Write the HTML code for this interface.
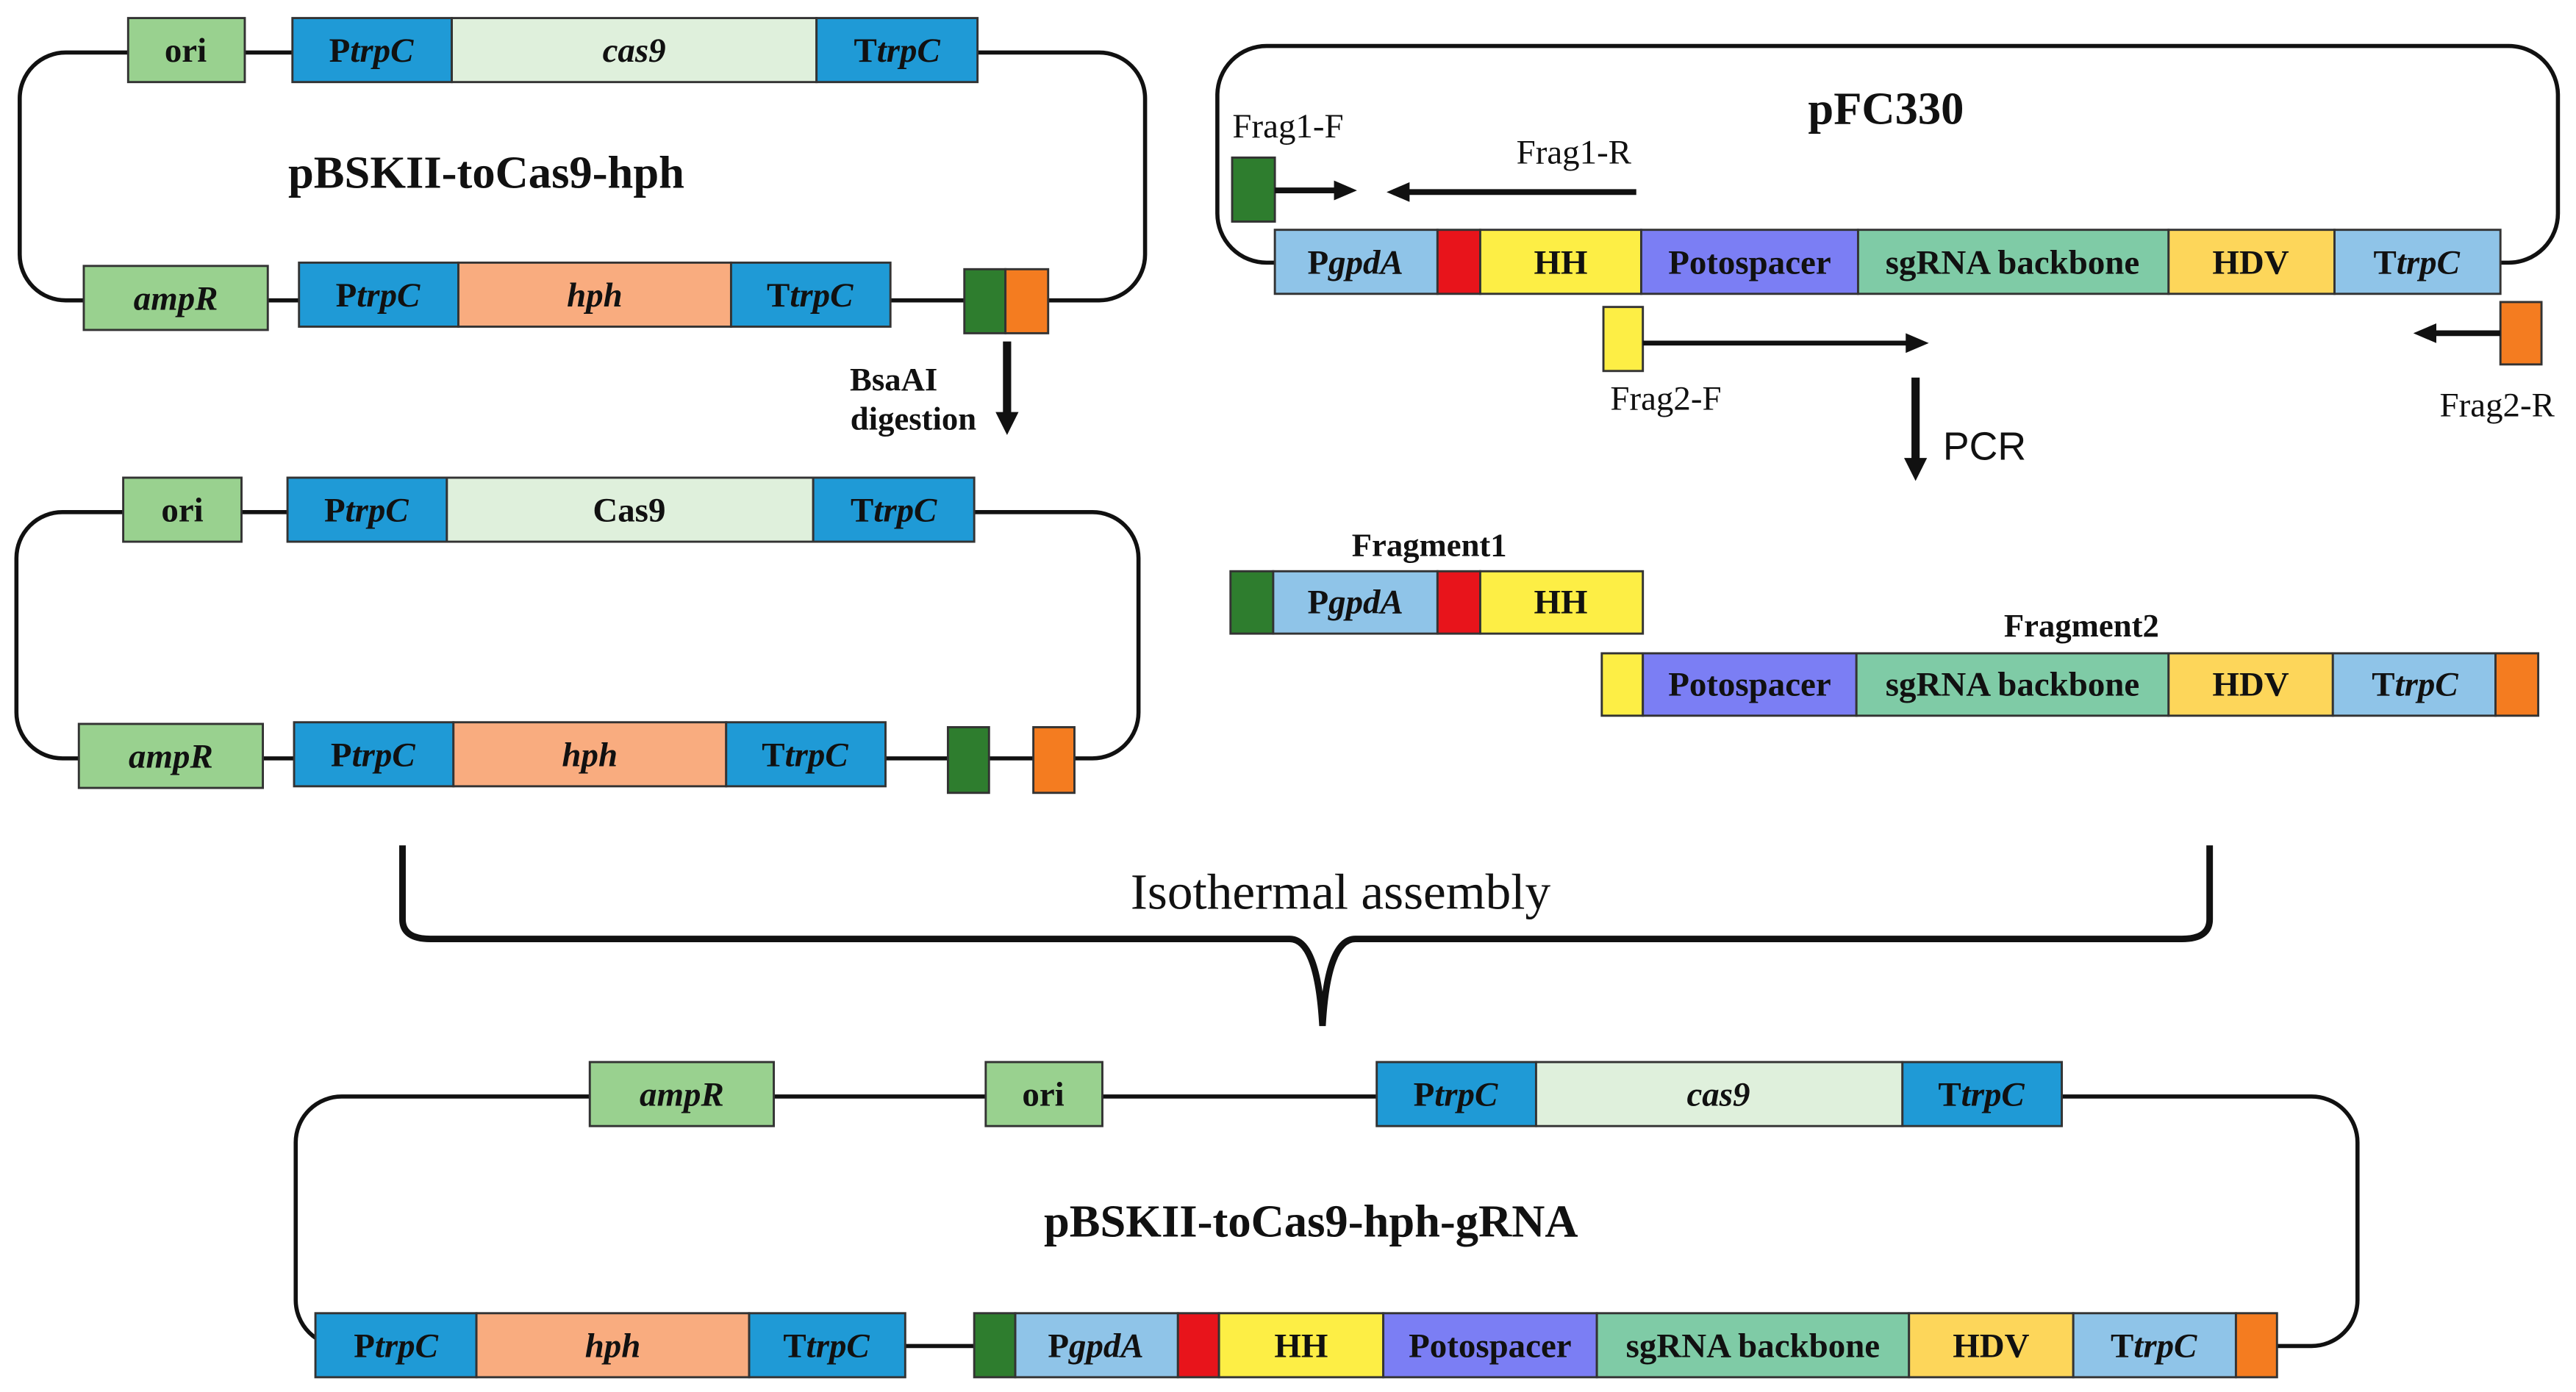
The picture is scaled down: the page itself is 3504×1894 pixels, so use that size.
<!DOCTYPE html>
<html><head><meta charset="utf-8"><style>
html,body{margin:0;padding:0;background:#fff;}
svg{display:block;}
text{font-family:"Liberation Serif",serif;font-weight:bold;font-size:21px;text-anchor:middle;dominant-baseline:central;fill:#111;}
.n{font-weight:normal;}
.f{font-size:21px;}
.t{font-size:28px;}
.g{font-size:20px;}
rect{stroke:#333;stroke-width:1.3;}
.ln{fill:none;stroke:#111;stroke-width:2.5;}
</style></head><body>
<svg width="3504" height="1894" viewBox="0 0 1568 848" preserveAspectRatio="none" xmlns="http://www.w3.org/2000/svg">
<defs><marker id="ah" markerWidth="14" markerHeight="12" refX="10" refY="6" orient="auto" markerUnits="userSpaceOnUse"><path d="M0,0 L14,6 L0,12 z" fill="#111"/></marker>
<marker id="ah2" markerWidth="14" markerHeight="14" refX="7" refY="7" orient="auto" markerUnits="userSpaceOnUse"><path d="M0,0 L14,7 L0,14 z" fill="#111"/></marker></defs>

<!-- plasmid 1 -->
<rect class="ln" x="12" y="32" width="685" height="151" rx="28"/>
<rect x="78" y="11" width="71" height="39" fill="#99d18f"/><text x="113" y="31">ori</text>
<rect x="178" y="11" width="97" height="39" fill="#1f9ad6"/><text x="226" y="31">P<tspan font-style="italic">trpC</tspan></text>
<rect x="275" y="11" width="222" height="39" fill="#dff0dc"/><text x="386" y="31" font-style="italic">cas9</text>
<rect x="497" y="11" width="98" height="39" fill="#1f9ad6"/><text x="546" y="31">T<tspan font-style="italic">trpC</tspan></text>
<text x="296" y="105" class="t">pBSKII-toCas9-hph</text>
<rect x="51" y="162" width="112" height="39" fill="#99d18f"/><text x="107" y="182" font-style="italic">ampR</text>
<rect x="182" y="160" width="97" height="39" fill="#1f9ad6"/><text x="230" y="180">P<tspan font-style="italic">trpC</tspan></text>
<rect x="279" y="160" width="166" height="39" fill="#f9ac7f"/><text x="362" y="180" font-style="italic">hph</text>
<rect x="445" y="160" width="97" height="39" fill="#1f9ad6"/><text x="493" y="180">T<tspan font-style="italic">trpC</tspan></text>
<rect x="587" y="164" width="25" height="39" fill="#2e7d2e"/><rect x="612" y="164" width="26" height="39" fill="#f47c20"/>
<line x1="613" y1="208" x2="613" y2="258" stroke="#111" stroke-width="5" marker-end="url(#ah2)"/>
<text x="544" y="231" class="g">BsaAI</text><text x="556" y="255" class="g">digestion</text>

<!-- plasmid 2 -->
<rect class="ln" x="10" y="312" width="683" height="150" rx="28"/>
<rect x="75" y="291" width="72" height="39" fill="#99d18f"/><text x="111" y="311">ori</text>
<rect x="175" y="291" width="97" height="39" fill="#1f9ad6"/><text x="223" y="311">P<tspan font-style="italic">trpC</tspan></text>
<rect x="272" y="291" width="223" height="39" fill="#dff0dc"/><text x="383" y="311">Cas9</text>
<rect x="495" y="291" width="98" height="39" fill="#1f9ad6"/><text x="544" y="311">T<tspan font-style="italic">trpC</tspan></text>
<rect x="48" y="441" width="112" height="39" fill="#99d18f"/><text x="104" y="461" font-style="italic">ampR</text>
<rect x="179" y="440" width="97" height="39" fill="#1f9ad6"/><text x="227" y="460">P<tspan font-style="italic">trpC</tspan></text>
<rect x="276" y="440" width="166" height="39" fill="#f9ac7f"/><text x="359" y="460" font-style="italic">hph</text>
<rect x="442" y="440" width="97" height="39" fill="#1f9ad6"/><text x="490" y="460">T<tspan font-style="italic">trpC</tspan></text>
<rect x="577" y="443" width="25" height="40" fill="#2e7d2e"/><rect x="629" y="443" width="25" height="40" fill="#f47c20"/>

<!-- pFC330 -->
<rect class="ln" x="741" y="28" width="816" height="132" rx="30"/>
<text x="1148" y="66" class="t">pFC330</text>
<rect x="776" y="140" width="99" height="39" fill="#8fc4e8"/><text x="825" y="160">P<tspan font-style="italic">gpdA</tspan></text>
<rect x="875" y="140" width="26" height="39" fill="#e8141b"/>
<rect x="901" y="140" width="98" height="39" fill="#fdee45"/><text x="950" y="160">HH</text>
<rect x="999" y="140" width="132" height="39" fill="#7b7ef4"/><text x="1065" y="160">Potospacer</text>
<rect x="1131" y="140" width="189" height="39" fill="#7fcba6"/><text x="1225" y="160">sgRNA backbone</text>
<rect x="1320" y="140" width="101" height="39" fill="#fdd65a"/><text x="1370" y="160">HDV</text>
<rect x="1421" y="140" width="101" height="39" fill="#8fc4e8"/><text x="1471" y="160">T<tspan font-style="italic">trpC</tspan></text>
<text x="784" y="77" class="n f">Frag1-F</text>
<rect x="750" y="96" width="26" height="39" fill="#2e7d2e"/>
<line x1="776" y1="116" x2="822" y2="116" stroke="#111" stroke-width="3.5" marker-end="url(#ah)"/>
<text x="958" y="93" class="n f">Frag1-R</text>
<line x1="996" y1="117" x2="848" y2="117" stroke="#111" stroke-width="3.5" marker-end="url(#ah)"/>
<rect x="976" y="187" width="24" height="39" fill="#fdee45"/>
<line x1="1000" y1="209" x2="1170" y2="209" stroke="#111" stroke-width="3" marker-end="url(#ah)"/>
<text x="1014" y="243" class="n f">Frag2-F</text>
<rect x="1522" y="184" width="25" height="38" fill="#f47c20"/>
<line x1="1522" y1="203" x2="1473" y2="203" stroke="#111" stroke-width="3.5" marker-end="url(#ah)"/>
<text x="1520" y="247" class="n f">Frag2-R</text>
<line x1="1166" y1="230" x2="1166" y2="286" stroke="#111" stroke-width="5" marker-end="url(#ah2)"/>
<text x="1208" y="272" class="n" style="font-family:'Liberation Sans',sans-serif;font-size:24px">PCR</text>

<!-- fragments -->
<text x="870" y="332" class="g">Fragment1</text>
<rect x="749" y="348" width="26" height="38" fill="#2e7d2e"/>
<rect x="775" y="348" width="100" height="38" fill="#8fc4e8"/><text x="825" y="367">P<tspan font-style="italic">gpdA</tspan></text>
<rect x="875" y="348" width="26" height="38" fill="#e8141b"/>
<rect x="901" y="348" width="99" height="38" fill="#fdee45"/><text x="950" y="367">HH</text>
<text x="1267" y="381" class="g">Fragment2</text>
<rect x="975" y="398" width="25" height="38" fill="#fdee45"/>
<rect x="1000" y="398" width="130" height="38" fill="#7b7ef4"/><text x="1065" y="417">Potospacer</text>
<rect x="1130" y="398" width="190" height="38" fill="#7fcba6"/><text x="1225" y="417">sgRNA backbone</text>
<rect x="1320" y="398" width="100" height="38" fill="#fdd65a"/><text x="1370" y="417">HDV</text>
<rect x="1420" y="398" width="99" height="38" fill="#8fc4e8"/><text x="1470" y="417">T<tspan font-style="italic">trpC</tspan></text>
<rect x="1519" y="398" width="26" height="38" fill="#f47c20"/>

<!-- brace -->
<path d="M245,515 L245,560 Q245,572 262,572 L785,572 Q802,572 805,625 Q808,572 825,572 L1328,572 Q1345,572 1345,560 L1345,515" fill="none" stroke="#111" stroke-width="4"/>
<text x="816" y="543" class="n" style="font-size:31px">Isothermal assembly</text>

<!-- final plasmid -->
<rect class="ln" x="180" y="668" width="1255" height="152" rx="28"/>
<rect x="359" y="647" width="112" height="39" fill="#99d18f"/><text x="415" y="667" font-style="italic">ampR</text>
<rect x="600" y="647" width="71" height="39" fill="#99d18f"/><text x="635" y="667">ori</text>
<rect x="838" y="647" width="97" height="39" fill="#1f9ad6"/><text x="886" y="667">P<tspan font-style="italic">trpC</tspan></text>
<rect x="935" y="647" width="223" height="39" fill="#dff0dc"/><text x="1046" y="667" font-style="italic">cas9</text>
<rect x="1158" y="647" width="97" height="39" fill="#1f9ad6"/><text x="1206" y="667">T<tspan font-style="italic">trpC</tspan></text>
<text x="798" y="744" class="t">pBSKII-toCas9-hph-gRNA</text>
<rect x="192" y="800" width="98" height="39" fill="#1f9ad6"/><text x="241" y="820">P<tspan font-style="italic">trpC</tspan></text>
<rect x="290" y="800" width="166" height="39" fill="#f9ac7f"/><text x="373" y="820" font-style="italic">hph</text>
<rect x="456" y="800" width="95" height="39" fill="#1f9ad6"/><text x="503" y="820">T<tspan font-style="italic">trpC</tspan></text>
<rect x="593" y="800" width="25" height="39" fill="#2e7d2e"/>
<rect x="618" y="800" width="99" height="39" fill="#8fc4e8"/><text x="667" y="820">P<tspan font-style="italic">gpdA</tspan></text>
<rect x="717" y="800" width="25" height="39" fill="#e8141b"/>
<rect x="742" y="800" width="100" height="39" fill="#fdee45"/><text x="792" y="820">HH</text>
<rect x="842" y="800" width="130" height="39" fill="#7b7ef4"/><text x="907" y="820">Potospacer</text>
<rect x="972" y="800" width="190" height="39" fill="#7fcba6"/><text x="1067" y="820">sgRNA backbone</text>
<rect x="1162" y="800" width="100" height="39" fill="#fdd65a"/><text x="1212" y="820">HDV</text>
<rect x="1262" y="800" width="99" height="39" fill="#8fc4e8"/><text x="1311" y="820">T<tspan font-style="italic">trpC</tspan></text>
<rect x="1361" y="800" width="25" height="39" fill="#f47c20"/>
</svg>
</body></html>
